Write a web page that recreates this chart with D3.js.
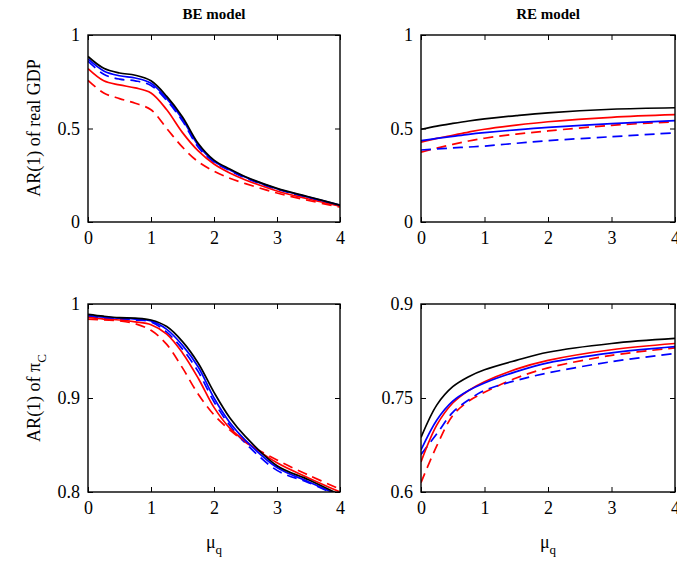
<!DOCTYPE html>
<html>
<head>
<meta charset="utf-8">
<script src="https://cdn.jsdelivr.net/npm/d3@7"></script>
<style>
  body { margin: 0; background: #fff; }
  svg text { font-family: "Liberation Serif", "Times New Roman", serif; fill: #000; }
</style>
</head>
<body>
<script>
// x grids (mu_q)
var muBE = [0, 0.25, 0.5, 0.75, 1, 1.25, 1.5, 1.75, 2, 2.25, 2.5, 3, 3.5, 4];
var muRE = [0, 0.25, 0.5, 0.75, 1, 1.5, 2, 3, 4];

// BE model, AR(1) of real GDP
var beGdpBlack   = [0.885, 0.822, 0.797, 0.785, 0.755, 0.672, 0.562, 0.42, 0.331, 0.283, 0.242, 0.18, 0.135, 0.09];
var beGdpBlue    = [0.872, 0.808, 0.782, 0.77, 0.742, 0.66, 0.55, 0.41, 0.325, 0.279, 0.239, 0.178, 0.133, 0.09];
var beGdpBlueD   = [0.86, 0.79, 0.764, 0.755, 0.73, 0.65, 0.54, 0.4, 0.32, 0.275, 0.235, 0.175, 0.13, 0.088];
var beGdpRed     = [0.82, 0.755, 0.733, 0.717, 0.69, 0.6, 0.478, 0.38, 0.31, 0.262, 0.225, 0.166, 0.123, 0.085];
var beGdpRedD    = [0.758, 0.69, 0.66, 0.635, 0.6, 0.5, 0.4, 0.322, 0.272, 0.234, 0.205, 0.155, 0.115, 0.08];

// RE model, AR(1) of real GDP
var reGdpBlack   = [0.496, 0.513, 0.527, 0.54, 0.551, 0.569, 0.584, 0.603, 0.611];
var reGdpBlue    = [0.435, 0.447, 0.458, 0.469, 0.478, 0.493, 0.506, 0.526, 0.542];
var reGdpBlueD   = [0.385, 0.391, 0.396, 0.401, 0.406, 0.421, 0.435, 0.456, 0.477];
var reGdpRed     = [0.427, 0.447, 0.464, 0.481, 0.496, 0.518, 0.536, 0.56, 0.574];
var reGdpRedD    = [0.373, 0.395, 0.415, 0.433, 0.448, 0.47, 0.487, 0.517, 0.536];

// BE model, AR(1) of pi_C
var bePiBlack    = [0.989, 0.987, 0.9855, 0.985, 0.983, 0.976, 0.96, 0.937, 0.906, 0.879, 0.859, 0.828, 0.813, 0.797];
var bePiBlue     = [0.988, 0.986, 0.985, 0.984, 0.982, 0.973, 0.956, 0.933, 0.9, 0.874, 0.855, 0.826, 0.811, 0.796];
var bePiBlueD    = [0.987, 0.985, 0.984, 0.983, 0.981, 0.97, 0.952, 0.928, 0.896, 0.871, 0.852, 0.823, 0.81, 0.795];
var bePiRed      = [0.986, 0.984, 0.983, 0.981, 0.978, 0.968, 0.948, 0.921, 0.89, 0.868, 0.854, 0.831, 0.815, 0.8];
var bePiRedD     = [0.984, 0.983, 0.982, 0.979, 0.972, 0.957, 0.932, 0.904, 0.882, 0.866, 0.853, 0.834, 0.818, 0.803];

// RE model, AR(1) of pi_C
var rePiBlack    = [0.687, 0.739, 0.768, 0.784, 0.795, 0.81, 0.823, 0.837, 0.845];
var rePiBlue     = [0.667, 0.715, 0.745, 0.762, 0.774, 0.792, 0.806, 0.822, 0.832];
var rePiBlueD    = [0.66, 0.693, 0.727, 0.747, 0.762, 0.778, 0.79, 0.808, 0.821];
var rePiRed      = [0.648, 0.707, 0.742, 0.762, 0.776, 0.796, 0.81, 0.827, 0.837];
var rePiRedD     = [0.615, 0.674, 0.722, 0.745, 0.759, 0.782, 0.798, 0.818, 0.83];

var xTicks = [0, 1, 2, 3, 4];
var gdpTicks = [0, 0.5, 1];
var bePiTicks = [0.8, 0.9, 1];
var rePiTicks = [0.6, 0.75, 0.9];

var width = 677, height = 562;

var svg = d3.select('body').append('svg')
  .attr('width', width)
  .attr('height', height);

// series styles, drawn back to front
var styles = [
  { color: '#ff0000', dash: '10,6' },
  { color: '#0000ff', dash: '10,6' },
  { color: '#ff0000', dash: null },
  { color: '#0000ff', dash: null },
  { color: '#000000', dash: null }
];

function drawPanel(id, box, mu, series, yDomain, yTicks, yFmt) {
  var xScale = d3.scaleLinear().domain([0, 4]).range([box.x0, box.x1]);
  var yScale = d3.scaleLinear().domain(yDomain).range([box.y1, box.y0]);

  svg.append('clipPath').attr('id', id)
    .append('rect')
    .attr('x', box.x0).attr('y', box.y0)
    .attr('width', box.x1 - box.x0).attr('height', box.y1 - box.y0);

  var line = d3.line()
    .x(function(d) { return xScale(d[0]); })
    .y(function(d) { return yScale(d[1]); })
    .curve(d3.curveCatmullRom.alpha(0.5));

  var g = svg.append('g').attr('clip-path', 'url(#' + id + ')');
  series.forEach(function(vals, i) {
    g.append('path')
      .datum(mu.map(function(m, j) { return [m, vals[j]]; }))
      .attr('d', line)
      .attr('fill', 'none')
      .attr('stroke', styles[i].color)
      .attr('stroke-width', 1.7)
      .attr('stroke-dasharray', styles[i].dash);
  });

  // inward ticks on all four sides, matlab style
  var bottom = d3.axisBottom(xScale).tickValues(xTicks).tickSize(-5).tickSizeOuter(0)
    .tickPadding(9).tickFormat(d3.format('d'));
  var top = d3.axisTop(xScale).tickValues(xTicks).tickSize(-5).tickSizeOuter(0).tickFormat('');
  var left = d3.axisLeft(yScale).tickValues(yTicks).tickSize(-5).tickSizeOuter(0)
    .tickPadding(8).tickFormat(yFmt);
  var right = d3.axisRight(yScale).tickValues(yTicks).tickSize(-5).tickSizeOuter(0).tickFormat('');

  [[bottom, 'translate(0,' + box.y1 + ')'], [top, 'translate(0,' + box.y0 + ')'],
   [left, 'translate(' + box.x0 + ',0)'], [right, 'translate(' + box.x1 + ',0)']]
    .forEach(function(a) {
      var ax = svg.append('g').attr('transform', a[1]).call(a[0])
        .attr('font-family', 'Liberation Serif').attr('font-size', 18);
      ax.select('.domain').remove();
      ax.selectAll('line').attr('stroke', '#000').attr('stroke-width', 1);
      ax.selectAll('text')
        .attr('font-family', 'Liberation Serif')
        .style('font-family', 'Liberation Serif')
        .style('font-size', '18px');
    });

  svg.append('rect')
    .attr('x', box.x0).attr('y', box.y0)
    .attr('width', box.x1 - box.x0).attr('height', box.y1 - box.y0)
    .attr('fill', 'none')
    .attr('stroke', '#000')
    .attr('stroke-width', 1.4);
}

var colL = { x0: 88, x1: 340 }, colR = { x0: 421, x1: 675 };
var rowT = { y0: 35, y1: 222 }, rowB = { y0: 304, y1: 492 };
function box(c, r) { return { x0: c.x0, x1: c.x1, y0: r.y0, y1: r.y1 }; }

var fmtG = function(d) { return d === 0.5 ? '0.5' : d3.format('d')(d); };
var fmtBE = function(d) { return d === 1 ? '1' : d3.format('.1f')(d); };
var fmtRE = function(d) { return d === 0.75 ? '0.75' : d3.format('.1f')(d); };

drawPanel('c1', box(colL, rowT), muBE,
  [beGdpRedD, beGdpBlueD, beGdpRed, beGdpBlue, beGdpBlack], [0, 1], gdpTicks, fmtG);
drawPanel('c2', box(colR, rowT), muRE,
  [reGdpRedD, reGdpBlueD, reGdpRed, reGdpBlue, reGdpBlack], [0, 1], gdpTicks, fmtG);
drawPanel('c3', box(colL, rowB), muBE,
  [bePiRedD, bePiBlueD, bePiRed, bePiBlue, bePiBlack], [0.8, 1], bePiTicks, fmtBE);
drawPanel('c4', box(colR, rowB), muRE,
  [rePiRedD, rePiBlueD, rePiRed, rePiBlue, rePiBlack], [0.6, 0.9], rePiTicks, fmtRE);

// titles
svg.append('text').attr('x', 214).attr('y', 19)
  .attr('text-anchor', 'middle').style('font-weight', 'bold').style('font-size', '15px')
  .text('BE model');
svg.append('text').attr('x', 548).attr('y', 19)
  .attr('text-anchor', 'middle').style('font-weight', 'bold').style('font-size', '15px')
  .text('RE model');

// y labels
svg.append('text')
  .attr('transform', 'translate(40,128) rotate(-90)')
  .attr('text-anchor', 'middle').style('font-size', '18px')
  .text('AR(1) of real GDP');

var yl2 = svg.append('text')
  .attr('transform', 'translate(40,398) rotate(-90)')
  .attr('text-anchor', 'middle').style('font-size', '18px');
yl2.append('tspan').text('AR(1) of \u03C0');
yl2.append('tspan').attr('dy', 6).style('font-size', '13px').text('C');

// x labels
[214, 548].forEach(function(cx) {
  var t = svg.append('text').attr('x', cx).attr('y', 548)
    .attr('text-anchor', 'middle').style('font-size', '18px');
  t.append('tspan').text('\u03BC');
  t.append('tspan').attr('dy', 6).style('font-size', '13px').text('q');
});
</script>
</body>
</html>
